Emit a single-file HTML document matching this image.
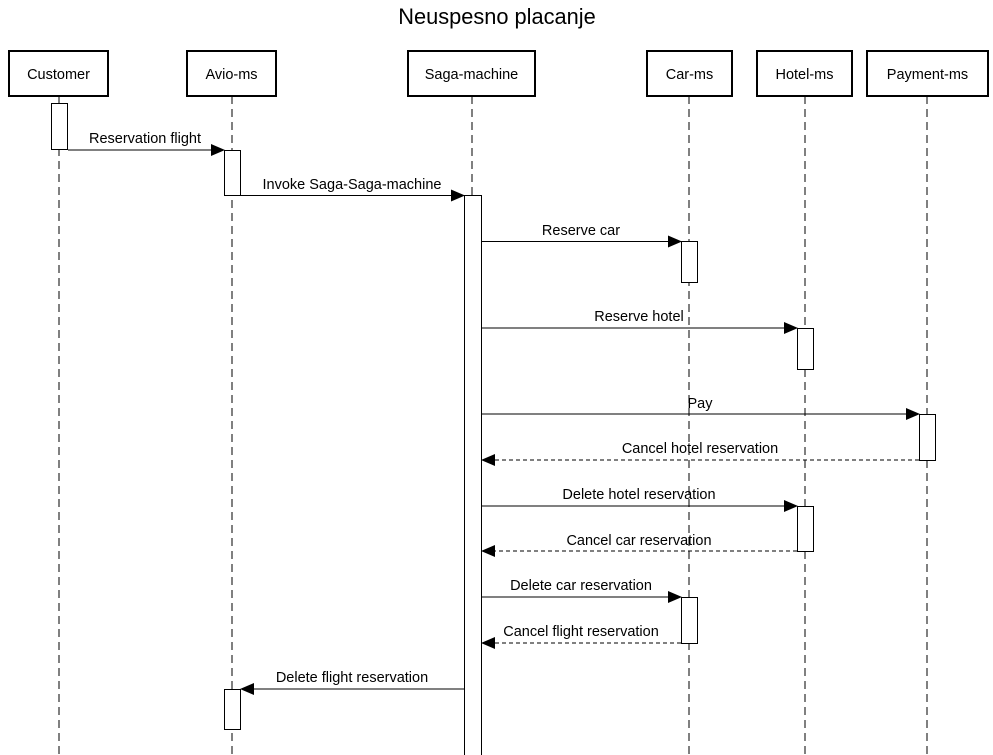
<!DOCTYPE html>
<html><head><style>body{margin:0;background:#fff}svg{display:block}text{font-family:"Liberation Sans",Arial,sans-serif;font-size:14.5px;fill:#000}</style></head>
<body>
<svg width="993" height="755" viewBox="0 0 993 755" xmlns="http://www.w3.org/2000/svg">
<defs><marker id="a" markerWidth="14" markerHeight="12" refX="13" refY="6" orient="auto" markerUnits="userSpaceOnUse"><path d="M0,0 L14,6 L0,12 Z" fill="#000"/></marker></defs>
<text x="497" y="24" text-anchor="middle" style="font-size:21.8px">Neuspesno placanje</text>
<g stroke="#000" stroke-width="1" stroke-dasharray="8,5">
<line x1="59" y1="96" x2="59" y2="755"/><line x1="232" y1="96" x2="232" y2="755"/>
<line x1="472" y1="96" x2="472" y2="755"/><line x1="689" y1="96" x2="689" y2="755"/>
<line x1="805" y1="96" x2="805" y2="755"/><line x1="927" y1="96" x2="927" y2="755"/>
</g>
<g fill="#fff" stroke="#000" stroke-width="2">
<rect x="9" y="51" width="99" height="45"/><rect x="187" y="51" width="89" height="45"/>
<rect x="408" y="51" width="127" height="45"/><rect x="647" y="51" width="85" height="45"/>
<rect x="757" y="51" width="95" height="45"/><rect x="867" y="51" width="121" height="45"/>
</g>
<g text-anchor="middle">
<text x="58.5" y="79">Customer</text><text x="231.5" y="79">Avio-ms</text><text x="471.5" y="79">Saga-machine</text>
<text x="689.5" y="79">Car-ms</text><text x="804.5" y="79">Hotel-ms</text><text x="927.5" y="79">Payment-ms</text>
</g>
<g fill="#fff" stroke="#000" stroke-width="1">
<rect x="51.5" y="103.5" width="16" height="46"/><rect x="224.5" y="150.5" width="16" height="45"/>
<rect x="464.5" y="195.5" width="17" height="565"/><rect x="681.5" y="241.5" width="16" height="41"/>
<rect x="797.5" y="328.5" width="16" height="41"/><rect x="919.5" y="414.5" width="16" height="46"/>
<rect x="797.5" y="506.5" width="16" height="45"/><rect x="681.5" y="597.5" width="16" height="46"/>
<rect x="224.5" y="689.5" width="16" height="40"/>
</g>
<g stroke="#000" stroke-width="1" fill="none">
<line x1="68" y1="150" x2="224" y2="150" marker-end="url(#a)"/>
<line x1="241" y1="195.5" x2="464" y2="195.5" marker-end="url(#a)"/>
<line x1="482" y1="241.5" x2="681" y2="241.5" marker-end="url(#a)"/>
<line x1="482" y1="328" x2="797" y2="328" marker-end="url(#a)"/>
<line x1="482" y1="414" x2="919" y2="414" marker-end="url(#a)"/>
<line x1="919" y1="460" x2="482" y2="460" stroke-dasharray="4,3" marker-end="url(#a)"/>
<line x1="482" y1="506" x2="797" y2="506" marker-end="url(#a)"/>
<line x1="797" y1="551" x2="482" y2="551" stroke-dasharray="4,3" marker-end="url(#a)"/>
<line x1="482" y1="597" x2="681" y2="597" marker-end="url(#a)"/>
<line x1="681" y1="643" x2="482" y2="643" stroke-dasharray="4,3" marker-end="url(#a)"/>
<line x1="464" y1="689" x2="241" y2="689" marker-end="url(#a)"/>
</g>
<g text-anchor="middle">
<text x="145" y="143">Reservation flight</text>
<text x="352" y="189">Invoke Saga-Saga-machine</text>
<text x="581" y="235">Reserve car</text>
<text x="639" y="321">Reserve hotel</text>
<text x="700" y="408">Pay</text>
<text x="700" y="453">Cancel hotel reservation</text>
<text x="639" y="499">Delete hotel reservation</text>
<text x="639" y="545">Cancel car reservation</text>
<text x="581" y="590">Delete car reservation</text>
<text x="581" y="636">Cancel flight reservation</text>
<text x="352" y="682">Delete flight reservation</text>
</g>
</svg>
</body></html>
